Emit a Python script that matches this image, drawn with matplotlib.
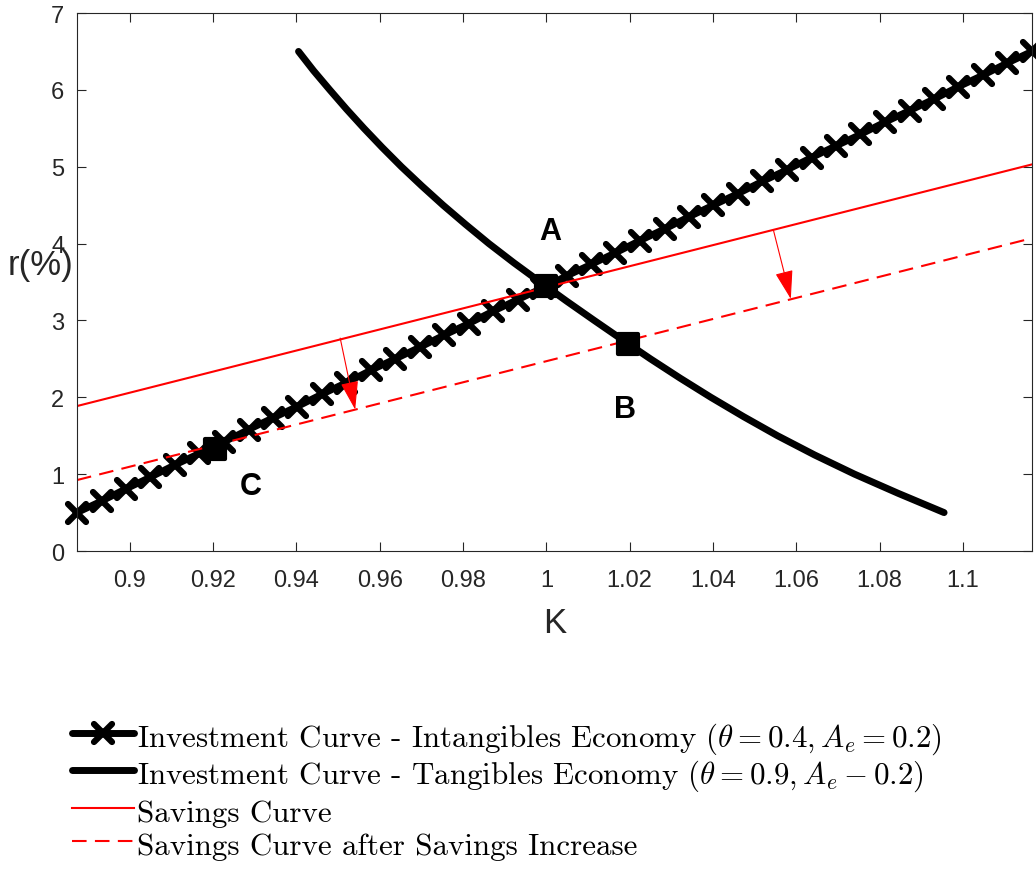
import numpy as np
import matplotlib
matplotlib.use('Agg')
import matplotlib.pyplot as plt
from matplotlib.markers import MarkerStyle

plt.rcParams['font.family'] = ['Liberation Sans', 'DejaVu Sans']
plt.rcParams['mathtext.fontset'] = 'cm'

# investment curve, intangibles economy
k_int = [0.8873, 0.8932, 0.8991, 0.9049, 0.9108, 0.9167, 0.9226, 0.9285, 0.9343, 0.9402,
         0.9461, 0.9520, 0.9578, 0.9637, 0.9696, 0.9755, 0.9814, 0.9872, 0.9931, 0.9990,
         1.0049, 1.0108, 1.0166, 1.0225, 1.0284, 1.0343, 1.0401, 1.0460, 1.0519, 1.0578,
         1.0637, 1.0695, 1.0754, 1.0813, 1.0872, 1.0931, 1.0989, 1.1048, 1.1107, 1.1166]
r_int = [0.50, 0.65, 0.81, 0.96, 1.12, 1.27, 1.42, 1.58, 1.73, 1.88,
         2.04, 2.19, 2.35, 2.50, 2.65, 2.81, 2.96, 3.12, 3.27, 3.42,
         3.58, 3.73, 3.88, 4.04, 4.19, 4.35, 4.50, 4.65, 4.81, 4.96,
         5.12, 5.27, 5.42, 5.58, 5.73, 5.88, 6.04, 6.19, 6.35, 6.50]

# investment curve, tangibles economy
k_tan = [0.9405, 0.9441, 0.9480, 0.9520, 0.9562, 0.9606, 0.9652, 0.9701, 0.9752,
         0.9806, 0.9862, 0.9922, 0.9985, 1.0049, 1.0115, 1.0182, 1.0250, 1.0321,
         1.0395, 1.0473, 1.0555, 1.0644, 1.0740, 1.0845, 1.0955]
r_tan = [6.50, 6.25, 6.00, 5.75, 5.50, 5.25, 5.00, 4.75, 4.50, 4.25, 4.00, 3.75, 3.50,
         3.25, 3.00, 2.75, 2.50, 2.25, 2.00, 1.75, 1.50, 1.25, 1.00, 0.75, 0.50]

# savings curves
k_sav = [0.8873, 1.1166]
r_sav = [1.886, 5.03]
r_sav_new = [0.923, 4.07]

# equilibrium points and their labels
pt_names = ['A', 'B', 'C']
pt_k = [1.0, 1.0195, 0.9205]
pt_r = [3.45, 2.69, 1.33]
lbl_k = [1.001, 1.0188, 0.9291]
lbl_r = [4.16, 1.85, 0.85]

# shift arrows (start -> end)
arr_k0 = [0.9505, 1.0545]
arr_r0 = [2.77, 4.18]
arr_k1 = [0.9541, 1.0587]
arr_r1 = [1.84, 3.28]

xticks = [0.9, 0.92, 0.94, 0.96, 0.98, 1.0, 1.02, 1.04, 1.06, 1.08, 1.1]
xticklabels = ['0.9', '0.92', '0.94', '0.96', '0.98', '1', '1.02', '1.04', '1.06', '1.08', '1.1']
yticks = [0, 1, 2, 3, 4, 5, 6, 7]

labels = [r'Investment Curve - Intangibles Economy $(\theta = 0.4, A_e = 0.2)$',
          r'Investment Curve - Tangibles Economy $(\theta = 0.9, A_e - 0.2)$',
          'Savings Curve',
          'Savings Curve after Savings Increase']

fig = plt.figure(figsize=(10.36, 8.7), dpi=100)
ax = fig.add_axes([0.0743, 0.3655, 0.9218, 0.6184])

xmark = MarkerStyle('x', capstyle='round')
h1, = ax.plot(k_int, r_int, color='k', lw=5, marker=xmark, ms=13, mew=4.5,
              solid_capstyle='round', clip_on=False)
h2, = ax.plot(k_tan, r_tan, color='k', lw=5, solid_capstyle='round', solid_joinstyle='round')
h3, = ax.plot(k_sav, r_sav, color='red', lw=1.5)
h4, = ax.plot(k_sav, r_sav_new, color='red', lw=1.5, dashes=(7, 4))

sq = MarkerStyle('s', joinstyle='round')
ax.plot(pt_k, pt_r, ls='none', marker=sq, ms=15, mfc='k', mec='k', mew=3, zorder=5)

for name, kx, ry in zip(pt_names, lbl_k, lbl_r):
    ax.text(kx, ry, name, fontsize=22, fontweight='bold', ha='center', va='center')

for k0, r0, k1, r1 in zip(arr_k0, arr_r0, arr_k1, arr_r1):
    ax.annotate('', xy=(k1, r1), xytext=(k0, r0),
                arrowprops=dict(arrowstyle='-|>,head_length=0.9,head_width=0.28',
                                color='red', lw=0.8, mutation_scale=20,
                                shrinkA=0, shrinkB=0))

ax.set_xlim(0.8873, 1.1166)
ax.set_ylim(0, 7)
ax.set_xticks(xticks)
ax.set_xticklabels(xticklabels)
ax.set_yticks(yticks)
ax.tick_params(direction='in', top=True, right=True, length=6.5, width=0.8,
               colors='#262626', labelsize=17)
ax.tick_params(axis='x', pad=13)
ax.tick_params(axis='y', pad=9)
for s in ax.spines.values():
    s.set_color('#262626')
    s.set_linewidth(0.8)

ax.set_xlabel('K', fontsize=25, color='#262626')
ax.xaxis.set_label_coords(0.5005, -0.132)
ax.xaxis.label.set_va('center')
ax.set_ylabel('r(%)', fontsize=25, rotation=0, color='#262626', ha='center', va='center')
ax.yaxis.set_label_coords(-0.0387, 0.533)

fig.legend([h1, h2, h3, h4], labels, loc='upper left', bbox_to_anchor=(0.0695, 0.171),
           frameon=False, prop=dict(family='cmr10', size=22.3), handlelength=2.0,
           handleheight=1.12, handletextpad=0.1, labelspacing=0.05, borderpad=0,
           borderaxespad=0)

fig.savefig('out.png', dpi=100)
